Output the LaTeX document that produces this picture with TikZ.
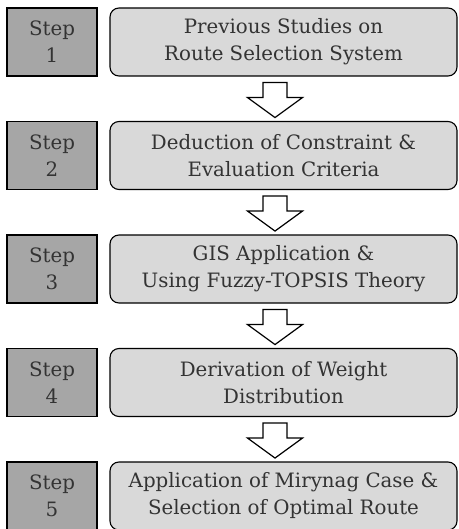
\documentclass[tikz,border=0pt]{standalone}
\usepackage{fontspec}
\setmainfont{DejaVu Serif}
\usetikzlibrary{calc}
\definecolor{stepgray}{HTML}{A6A6A6}
\definecolor{boxgray}{HTML}{D9D9D9}
\definecolor{txt}{HTML}{333333}
\tikzset{
  stepbox/.style={draw=black, line width=1.3pt, fill=stepgray, minimum width=90pt, minimum height=68pt, inner sep=0pt, align=center, text=txt, font=\fontsize{19.8}{27}\selectfont},
  taskbox/.style={draw=black, line width=1.1pt, fill=boxgray, rounded corners=9pt, minimum width=347pt, minimum height=68pt, inner sep=0pt, align=center, text=txt, font=\fontsize{19.8}{27}\selectfont},
  blockarrow/.style={draw=black, line width=1.2pt, fill=white, line join=miter}
}
\begin{document}
\begin{tikzpicture}[x=1pt,y=-1pt]
\useasboundingbox (0,0) rectangle (458,529);
\foreach \i/\t in {0/{Previous Studies on\\Route Selection System},
                   1/{Deduction of Constraint \&\\Evaluation Criteria},
                   2/{GIS Application \&\\Using Fuzzy-TOPSIS Theory},
                   3/{Derivation of Weight\\Distribution},
                   4/{Application of Mirynag Case \&\\Selection of Optimal Route}}{
  \pgfmathtruncatemacro{\n}{\i+1}
  \node[stepbox] (s\n) at (52, 42+113.5*\i) {Step\\\n};
  \node[taskbox] (b\n) at (283.5, 42+113.5*\i) {\t};
}
\foreach \i in {1,2,3,4}{
  \coordinate (a\i) at ($(b\i.south)+(-8.5,6)$);
  \draw[blockarrow] ($(a\i)+(-12,0)$) -- ++(0,15) -- ++(-15.5,0) -- ($(a\i)+(0,35)$) -- ($(a\i)+(27.5,15)$) -- ++(-15.5,0) -- ++(0,-15) -- cycle;
}
\end{tikzpicture}
\end{document}
